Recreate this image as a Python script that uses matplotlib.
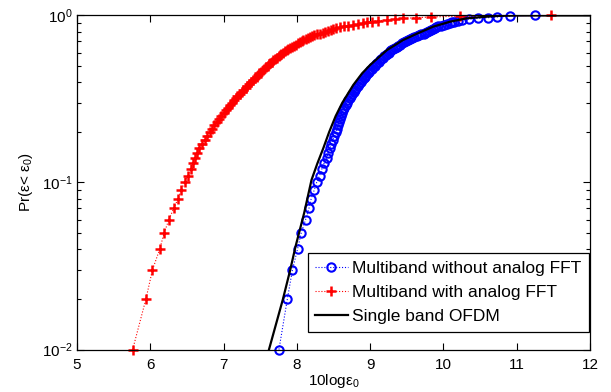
import numpy as np
import matplotlib
matplotlib.use("Agg")
import matplotlib.pyplot as plt
from matplotlib.ticker import LogLocator, NullFormatter

# =========================
# Data
# =========================
# empirical CDF levels shared by the two marker series (100 samples each)
cdf_levels = np.arange(1, 101) / 100

multiband_no_fft = [
    7.756, 7.87, 7.94, 8.01, 8.06, 8.12, 8.165, 8.196, 8.237, 8.27,
    8.31, 8.34, 8.37, 8.405, 8.43, 8.45, 8.47, 8.49, 8.51, 8.53,
    8.545, 8.56, 8.575, 8.585, 8.60, 8.61, 8.63, 8.645, 8.665, 8.68,
    8.70, 8.72, 8.74, 8.755, 8.775, 8.795, 8.81, 8.83, 8.85, 8.87,
    8.89, 8.91, 8.93, 8.945, 8.965, 8.985, 9.00, 9.02, 9.04, 9.06,
    9.08, 9.10, 9.12, 9.14, 9.155, 9.175, 9.195, 9.215, 9.235, 9.255,
    9.27, 9.29, 9.315, 9.34, 9.36, 9.385, 9.41, 9.435, 9.46, 9.485,
    9.51, 9.54, 9.57, 9.60, 9.635, 9.665, 9.70, 9.73, 9.755, 9.78,
    9.805, 9.83, 9.855, 9.88, 9.905, 9.93, 9.97, 10.01, 10.05, 10.09,
    10.12, 10.15, 10.20, 10.26, 10.35, 10.47, 10.61, 10.73, 10.91, 11.25,
]

multiband_fft = [
    5.76, 5.94, 6.03, 6.13, 6.19, 6.255, 6.32, 6.38, 6.42, 6.47,
    6.51, 6.55, 6.58, 6.61, 6.64, 6.67, 6.71, 6.74, 6.78, 6.81,
    6.84, 6.875, 6.905, 6.94, 6.97, 7.00, 7.03, 7.06, 7.085, 7.11,
    7.14, 7.165, 7.19, 7.22, 7.245, 7.27, 7.30, 7.32, 7.345, 7.37,
    7.40, 7.425, 7.45, 7.47, 7.49, 7.51, 7.535, 7.555, 7.575, 7.60,
    7.62, 7.64, 7.66, 7.68, 7.70, 7.725, 7.75, 7.77, 7.79, 7.815,
    7.84, 7.86, 7.885, 7.91, 7.935, 7.96, 7.985, 8.01, 8.04, 8.065,
    8.09, 8.12, 8.15, 8.18, 8.21, 8.24, 8.28, 8.32, 8.355, 8.39,
    8.43, 8.47, 8.50, 8.54, 8.59, 8.64, 8.70, 8.77, 8.83, 8.90,
    8.96, 9.03, 9.11, 9.23, 9.34, 9.45, 9.63, 9.83, 10.22, 11.47,
]

single_band_x = [7.62, 7.81, 7.91, 7.98, 8.10, 8.20, 8.28, 8.36, 8.44, 8.53,
                 8.62, 8.77, 8.89, 9.00, 9.23, 9.45, 9.65, 9.86, 10.09, 10.32,
                 10.54, 10.77, 11.0, 12.0]
single_band_p = [0.01, 0.02, 0.03, 0.041, 0.0657, 0.1035, 0.13, 0.16, 0.2, 0.25,
                 0.3, 0.3835, 0.45, 0.5055, 0.621, 0.713, 0.782, 0.857, 0.918, 0.962,
                 0.98, 0.995, 1.0, 1.0]

# =========================
# Style
# =========================
plt.rcParams['font.family'] = ['Liberation Sans', 'DejaVu Sans']
plt.rcParams['mathtext.fontset'] = 'custom'
plt.rcParams['mathtext.rm'] = 'Liberation Sans'
plt.rcParams['mathtext.it'] = 'Liberation Sans:italic'
plt.rcParams['font.size'] = 11

fig = plt.figure(figsize=(6.11, 3.92), dpi=100)
ax = fig.add_axes([0.126, 0.1084, 0.8396, 0.8521])

ax.plot(multiband_no_fft, cdf_levels, linestyle=':', color='b', linewidth=0.8,
        marker='o', markersize=6, markerfacecolor='none', markeredgewidth=1.5,
        label='Multiband without analog FFT', clip_on=False)
ax.plot(multiband_fft, cdf_levels, linestyle=':', color='r', linewidth=0.8,
        marker='+', markersize=6.5, markeredgewidth=1.8,
        label='Multiband with analog FFT', clip_on=False)
ax.plot(single_band_x, single_band_p, color='k', linewidth=1.6,
        label='Single band OFDM')

ax.set_yscale('log')
ax.set_xlim(5, 12)
ax.set_ylim(0.01, 1)
ax.set_xticks(range(5, 13))
ax.yaxis.set_major_locator(LogLocator(base=10, numticks=5))
ax.yaxis.set_minor_locator(LogLocator(base=10, subs=np.arange(2, 10), numticks=20))
ax.yaxis.set_minor_formatter(NullFormatter())

ax.tick_params(which='both', direction='in', top=True, right=True, width=0.8)
ax.tick_params(which='major', length=5)
ax.tick_params(which='minor', length=3)
ax.tick_params(axis='x', pad=6)
ax.tick_params(axis='y', pad=3)
for s in ax.spines.values():
    s.set_linewidth(0.9)

ax.set_xlabel('10logε$_0$', labelpad=0)
ax.set_ylabel('Pr(ε< ε$_0$)', labelpad=5)

leg = ax.legend(loc='lower right', bbox_to_anchor=(0.998, 0.053), borderaxespad=0,
                fancybox=False, framealpha=1, edgecolor='k', numpoints=1,
                handlelength=1.85, handletextpad=0.25, labelspacing=0.5,
                borderpad=0.45, fontsize=12.5)
leg.get_frame().set_linewidth(0.9)

fig.savefig('out.png', dpi=100)
